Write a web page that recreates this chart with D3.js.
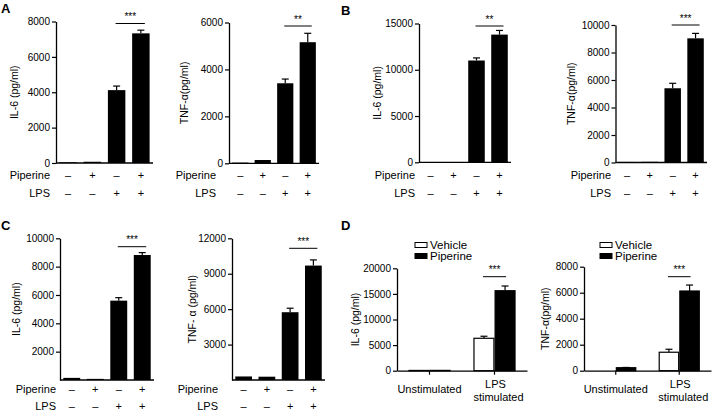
<!DOCTYPE html>
<html>
<head>
<meta charset="utf-8">
<script src="https://cdn.jsdelivr.net/npm/d3@7"></script>
<style>
  body { margin: 0; background: #fff; }
  svg { display: block; font-family: "Liberation Sans", Arial, sans-serif; }
</style>
</head>
<body>
<svg id="fig" width="714" height="411"></svg>
<script>
// condition rows under the 4-bar panels
var piperineRow = ['–', '+', '–', '+'];
var lpsRow = ['–', '–', '+', '+'];
var groups4 = ['g1', 'g2', 'g3', 'g4'];

// A
var aIL6 = [40, 70, 4120, 7330];
var aIL6Err = [0, 0, 230, 180];
var aIL6Ticks = [0, 2000, 4000, 6000, 8000];
var aTNF = [30, 140, 3410, 5160];
var aTNFErr = [0, 0, 180, 380];
var aTNFTicks = [0, 2000, 4000, 6000];

// B
var bIL6 = [30, 30, 11000, 13800];
var bIL6Err = [0, 0, 280, 450];
var bIL6Ticks = [0, 5000, 10000, 15000];
var bTNF = [40, 50, 5400, 9030];
var bTNFErr = [0, 0, 360, 360];
var bTNFTicks = [0, 2000, 4000, 6000, 8000, 10000];

// C
var cIL6 = [150, 80, 5600, 8820];
var cIL6Err = [0, 0, 210, 170];
var cIL6Ticks = [2000, 4000, 6000, 8000, 10000];
var cTNF = [300, 280, 5740, 9690];
var cTNFErr = [0, 0, 340, 480];
var cTNFTicks = [3000, 6000, 9000, 12000];

// D
var dGroups = ['Unstimulated', 'LPS stimulated'];
var dSeries = ['Vehicle', 'Piperine'];
var dIL6Vehicle = [50, 6330];
var dIL6VehicleErr = [0, 400];
var dIL6Piperine = [60, 15620];
var dIL6PiperineErr = [0, 920];
var dIL6Ticks = [0, 5000, 10000, 15000, 20000];
var dTNFVehicle = [0, 1420];
var dTNFVehicleErr = [0, 230];
var dTNFPiperine = [230, 6130];
var dTNFPiperineErr = [20, 460];
var dTNFTicks = [0, 2000, 4000, 6000, 8000];

var svg = d3.select('#fig');
var fmt = d3.format('d');

function yAxis(g, y, ticks, x0) {
    var ax = g.append('g')
        .attr('transform', 'translate(' + x0 + ',0)')
        .call(d3.axisLeft(y).tickValues(ticks).tickSize(4).tickSizeOuter(0).tickPadding(2).tickFormat(fmt));
    ax.select('.domain').attr('stroke', '#000').attr('stroke-width', 1.3);
    ax.selectAll('.tick line').attr('stroke', '#000').attr('stroke-width', 1.2);
    ax.selectAll('.tick text').attr('font-size', 10).attr('fill', '#000')
        .attr('font-family', '"Liberation Sans", Arial, sans-serif');
    return ax;
}

function yLabel(g, text, x, yc) {
    g.append('text')
        .attr('transform', 'translate(' + x + ',' + yc + ') rotate(-90)')
        .attr('text-anchor', 'middle')
        .attr('dominant-baseline', 'central')
        .attr('font-size', 10.5)
        .text(text);
}

function errBar(g, cx, yv, ye) {
    g.append('line').attr('x1', cx).attr('x2', cx).attr('y1', yv).attr('y2', ye)
        .attr('stroke', '#000').attr('stroke-width', 1.2);
    g.append('line').attr('x1', cx - 3.5).attr('x2', cx + 3.5).attr('y1', ye).attr('y2', ye)
        .attr('stroke', '#000').attr('stroke-width', 1.2);
}

function sigMark(g, xa, xb, ly, stars) {
    g.append('line').attr('x1', xa).attr('x2', xb).attr('y1', ly).attr('y2', ly)
        .attr('stroke', '#000').attr('stroke-width', 1);
    g.append('text').attr('x', (xa + xb) / 2).attr('y', ly - 3.5)
        .attr('text-anchor', 'middle').attr('font-size', 10).text(stars);
}

function panel4(p) {
    var g = svg.append('g');
    var x = d3.scaleBand().domain(groups4).range([p.x0, p.x1]).paddingInner(0.28).paddingOuter(0.14);
    var y = d3.scaleLinear().domain([0, p.max]).range([p.bot, p.top]);

    g.selectAll('rect.bar').data(p.values).enter().append('rect')
        .attr('class', 'bar')
        .attr('x', function (d, i) { return x(groups4[i]); })
        .attr('width', x.bandwidth())
        .attr('y', function (d) { return y(d); })
        .attr('height', function (d) { return y(0) - y(d); })
        .attr('fill', '#000');

    p.values.forEach(function (v, i) {
        if (p.err[i] > 0) {
            errBar(g, x(groups4[i]) + x.bandwidth() / 2, y(v), y(v + p.err[i]));
        }
    });

    yAxis(g, y, p.ticks, p.x0);
    g.append('line').attr('x1', p.x0).attr('x2', p.x1).attr('y1', p.bot).attr('y2', p.bot)
        .attr('stroke', '#000').attr('stroke-width', 1.3);
    yLabel(g, p.label, p.labelX, (p.top + p.bot) / 2);

    var c3 = x('g3') + x.bandwidth() / 2, c4 = x('g4') + x.bandwidth() / 2;
    sigMark(g, c3 - 1, c4 + 4, p.sigY, p.stars);

    var rows = [['Piperine', piperineRow, p.row1], ['LPS', lpsRow, p.row2]];
    rows.forEach(function (r) {
        g.append('text').attr('x', p.rowLabelX).attr('y', r[2])
            .attr('text-anchor', 'end').attr('font-size', 11).text(r[0]);
        g.selectAll(null).data(r[1]).enter().append('text')
            .attr('x', function (d, i) { return x(groups4[i]) + x.bandwidth() / 2; })
            .attr('y', r[2])
            .attr('text-anchor', 'middle').attr('font-size', 11)
            .text(function (d) { return d; });
    });
}

function panelD(p) {
    var g = svg.append('g');
    var x = d3.scaleBand().domain(dGroups).range([p.x0, p.x1]).paddingInner(0.35).paddingOuter(0.175);
    var xs = d3.scaleBand().domain(dSeries).range([0, x.bandwidth()]);
    var y = d3.scaleLinear().domain([0, p.max]).range([p.bot, p.top]);
    var fills = { 'Vehicle': '#fff', 'Piperine': '#000' };
    var series = [['Vehicle', p.veh, p.vehErr], ['Piperine', p.pip, p.pipErr]];

    series.forEach(function (s) {
        g.selectAll(null).data(s[1]).enter().append('rect')
            .attr('x', function (d, i) { return x(dGroups[i]) + xs(s[0]) + 0.6; })
            .attr('width', xs.bandwidth() - 1.2)
            .attr('y', function (d) { return y(d); })
            .attr('height', function (d) { return y(0) - y(d); })
            .attr('fill', fills[s[0]])
            .attr('stroke', function (d) { return d > 0 ? '#000' : 'none'; })
            .attr('stroke-width', 1.2);
        s[1].forEach(function (v, i) {
            if (s[2][i] > 0) {
                errBar(g, x(dGroups[i]) + xs(s[0]) + xs.bandwidth() / 2, y(v), y(v + s[2][i]));
            }
        });
    });

    yAxis(g, y, p.ticks, p.x0);
    var bx = g.append('g')
        .attr('transform', 'translate(0,' + p.bot + ')')
        .call(d3.axisBottom(x).tickSize(4).tickSizeOuter(0).tickFormat(''));
    bx.select('.domain').attr('stroke', '#000').attr('stroke-width', 1.3);
    bx.selectAll('.tick line').attr('stroke', '#000').attr('stroke-width', 1.2);

    // group labels
    var c0 = x(dGroups[0]) + x.bandwidth() / 2, c1 = x(dGroups[1]) + x.bandwidth() / 2;
    g.append('text').attr('x', c0).attr('y', p.bot + 22).attr('text-anchor', 'middle')
        .attr('font-size', 11).text('Unstimulated');
    g.append('text').attr('x', c1 + 1).attr('y', p.bot + 17).attr('text-anchor', 'middle')
        .attr('font-size', 11).text('LPS');
    g.append('text').attr('x', c1 + 4).attr('y', p.bot + 30).attr('text-anchor', 'middle')
        .attr('font-size', 11).text('stimulated');

    yLabel(g, p.label, p.labelX, (p.top + p.bot) / 2);

    var cv = x(dGroups[1]) + xs('Vehicle') + xs.bandwidth() / 2;
    var cp = x(dGroups[1]) + xs('Piperine') + xs.bandwidth() / 2;
    sigMark(g, cv - 1, cp + 1, p.sigY, '***');

    // legend
    dSeries.forEach(function (s, i) {
        var ly = p.legY + i * 11;
        g.append('rect').attr('x', p.legX).attr('y', ly - 2.5).attr('width', 12).attr('height', 5)
            .attr('fill', fills[s]).attr('stroke', '#000').attr('stroke-width', 1);
        g.append('text').attr('x', p.legX + 15).attr('y', ly).attr('dominant-baseline', 'central')
            .attr('font-size', 11.5).text(s);
    });
}

function letter(t, x, y) {
    svg.append('text').attr('x', x).attr('y', y).attr('font-size', 13)
        .attr('font-weight', 'bold').text(t);
}

panel4({ values: aIL6, err: aIL6Err, ticks: aIL6Ticks, max: 8000, label: 'IL-6 (pg/ml)',
    x0: 56, x1: 153, top: 21.5, bot: 163, labelX: 14, sigY: 23.5, stars: '***',
    row1: 178.5, row2: 197, rowLabelX: 50 });
panel4({ values: aTNF, err: aTNFErr, ticks: aTNFTicks, max: 6000, label: 'TNF-α(pg/ml)',
    x0: 229, x1: 319, top: 22.5, bot: 163.3, labelX: 184, sigY: 26, stars: '**',
    row1: 178.5, row2: 197, rowLabelX: 216 });
panel4({ values: bIL6, err: bIL6Err, ticks: bIL6Ticks, max: 15000, label: 'IL-6 (pg/ml)',
    x0: 419, x1: 511, top: 23.5, bot: 162.3, labelX: 377, sigY: 26, stars: '**',
    row1: 178.5, row2: 197, rowLabelX: 415 });
panel4({ values: bTNF, err: bTNFErr, ticks: bTNFTicks, max: 10000, label: 'TNF-α(pg/ml)',
    x0: 615.5, x1: 707, top: 25, bot: 162.5, labelX: 571, sigY: 25, stars: '***',
    row1: 178.5, row2: 197, rowLabelX: 611 });
panel4({ values: cIL6, err: cIL6Err, ticks: cIL6Ticks, max: 10000, label: 'IL-6 (pg/ml)',
    x0: 60, x1: 154, top: 238.3, bot: 380, labelX: 16, sigY: 246.7, stars: '***',
    row1: 392.5, row2: 410, rowLabelX: 56 });
panel4({ values: cTNF, err: cTNFErr, ticks: cTNFTicks, max: 12000, label: 'TNF- α  (pg/ml)',
    x0: 232, x1: 325, top: 238.3, bot: 380, labelX: 192, sigY: 248.3, stars: '***',
    row1: 392.5, row2: 410, rowLabelX: 218 });

panelD({ veh: dIL6Vehicle, vehErr: dIL6VehicleErr, pip: dIL6Piperine, pipErr: dIL6PiperineErr,
    ticks: dIL6Ticks, max: 20000, label: 'IL-6 (pg/ml)',
    x0: 397, x1: 527, top: 268.3, bot: 370.7, labelX: 355, sigY: 276.7, legX: 415, legY: 245 });
panelD({ veh: dTNFVehicle, vehErr: dTNFVehicleErr, pip: dTNFPiperine, pipErr: dTNFPiperineErr,
    ticks: dTNFTicks, max: 8000, label: 'TNF-α(pg/ml)',
    x0: 584, x1: 711, top: 266.7, bot: 370.7, labelX: 545, sigY: 276.7, legX: 600, legY: 245 });

letter('A', 1, 13);
letter('B', 341, 15);
letter('C', 1, 230);
letter('D', 341, 230);
</script>
</body>
</html>
